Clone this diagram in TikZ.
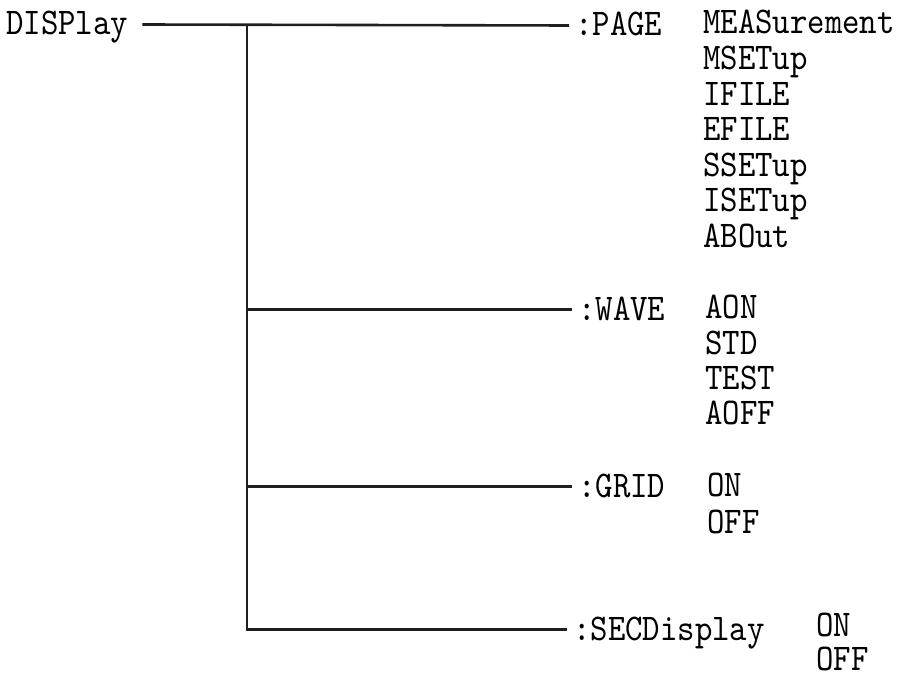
\documentclass[tikz,border=0pt]{standalone}
\usepackage{fontspec}
\setmonofont{lmmono10-regular.otf}[FakeStretch=0.88]
\tikzset{
  lbl/.style={font=\ttfamily\fontsize{37.7}{40}\selectfont, anchor=base west,
    inner xsep=6pt, inner ysep=0pt, text height=24pt, text depth=3pt},
  link/.style={line width=2.6pt, draw=black!88}
}

\begin{document}
\begin{tikzpicture}[x=1pt,y=-1pt]
\useasboundingbox (0,0) rectangle (902,676);

\node[lbl, inner xsep=14pt] (disp) at (-8,35) {DISPlay};

\node[lbl] (page) at (569,36) {:PAGE};
\node[lbl] (wave) at (572,320) {:WAVE};
\node[lbl] (grid) at (572,497) {:GRID};
\node[lbl] (sec) at (567,640) {:SECDisplay};

\coordinate (fork) at (247,25);

\draw[link] (disp.east) -- (page.west);
\draw[link] (fork) |- (sec.west);
\draw[link] (fork |- wave.west) -- (wave.west);
\draw[link] (fork |- grid.west) -- (grid.west);

\foreach \txt [count=\i from 0] in {MEASurement,MSETup,IFILE,EFILE,SSETup,ISETup,ABOut}{
  \node[lbl] (page\i) at (697,34+35.6*\i) {\txt};
}
\foreach \txt [count=\i from 0] in {AON,STD,TEST,AOFF}{
  \node[lbl] (wave\i) at (699,319+35.3*\i) {\txt};
}
\foreach \txt [count=\i from 0] in {ON,OFF}{
  \node[lbl] (grid\i) at (701,496+37*\i) {\txt};
  \node[lbl] (sec\i) at (810,636+34*\i) {\txt};
}

\end{tikzpicture}
\end{document}
